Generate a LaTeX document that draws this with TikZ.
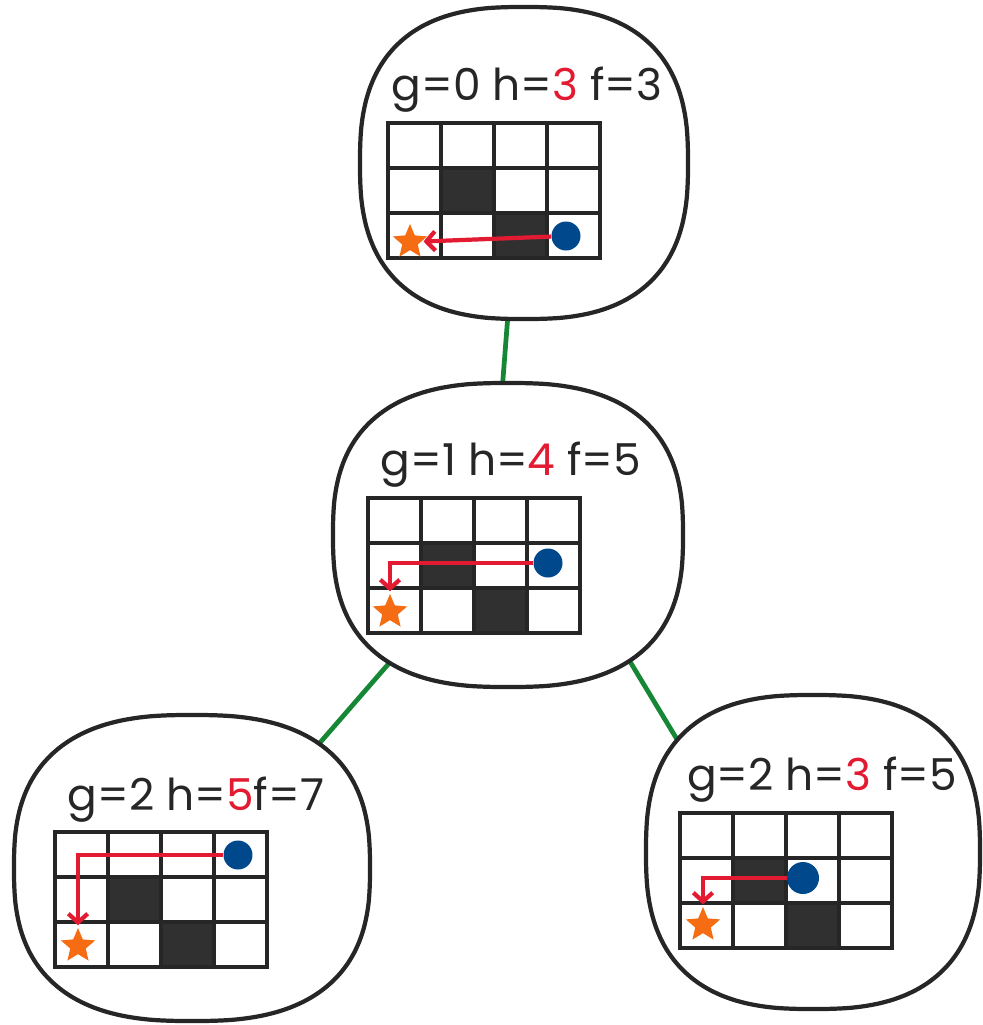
\documentclass[tikz,border=0pt]{standalone}
\usepackage{fontspec}
\setmainfont{Poppins}
\usepackage{xcolor}
\usetikzlibrary{calc,arrows.meta,shapes.geometric}

\definecolor{inkgray}{RGB}{38,38,38}
\definecolor{wallgray}{RGB}{48,48,48}
\definecolor{hred}{RGB}{226,26,50}
\definecolor{goalorange}{RGB}{245,108,18}
\definecolor{agentblue}{RGB}{0,72,140}
\definecolor{edgegreen}{RGB}{22,135,52}

\begin{document}
\begin{tikzpicture}[x=0.02cm, y=-0.02cm,
  declare function={sq(\a)=(\a<0 ? -1 : 1)*abs(\a)^0.77;},
  blob/.style={ellipse, inner sep=0pt},
  blobline/.style={draw=inkgray, line width=2.4pt, fill=white},
  edge/.style={draw=edgegreen, line width=2.7pt},
  costs/.style={font=\fontsize{25}{30}\selectfont, text=inkgray, anchor=base},
  gridline/.style={draw=inkgray, line width=2.2pt},
  wall/.style={fill=wallgray},
  goal/.style={star, star points=5, star point ratio=2.2, fill=goalorange, inner sep=0pt, minimum size=0.72cm},
  agent/.style={circle, fill=agentblue, inner sep=0pt, minimum size=0.58cm},
  route/.style={draw=hred, line width=2.4pt, -{Straight Barb[length=5pt, width=11pt]}, shorten >=1pt},
  mazegrid/.pic={
    \fill[wall] (53,45) rectangle (106,90);
    \fill[wall] (106,90) rectangle (159,135);
    \draw[gridline] (0,0) rectangle (212,135);
    \draw[gridline] (53,0) -- (53,135) (106,0) -- (106,135) (159,0) -- (159,135);
    \draw[gridline] (0,45) -- (212,45) (0,90) -- (212,90);
  }]
\useasboundingbox (0,0) rectangle (983,1025);

% search tree states
\node[blob, minimum width=6.56cm, minimum height=6.24cm] (n0) at (524,163) {};
\node[blob, minimum width=7.0cm, minimum height=6.08cm] (n1) at (508,535) {};
\node[blob, minimum width=7.12cm, minimum height=6.12cm] (n2) at (192,868) {};
\node[blob, minimum width=6.68cm, minimum height=6.28cm] (n3) at (813,852) {};

\draw[edge] (n0.264) -- (n1.92);
\draw[edge] (n1.227) -- (n2.44);
\draw[edge] (n1.315) -- (n3.142);

\draw[blobline] plot[smooth cycle, domain=2.5:357.5, samples=72, variable=\t] ({524+164*sq(cos(\t))},{163+156*sq(sin(\t))});
\draw[blobline] plot[smooth cycle, domain=2.5:357.5, samples=72, variable=\t] ({508+175*sq(cos(\t))},{535+152*sq(sin(\t))});
\draw[blobline] plot[smooth cycle, domain=2.5:357.5, samples=72, variable=\t] ({192+178*sq(cos(\t))},{868+153*sq(sin(\t))});
\draw[blobline] plot[smooth cycle, domain=2.5:357.5, samples=72, variable=\t] ({813+167*sq(cos(\t))},{852+157*sq(sin(\t))});

% root
\node[costs] (t0) at (527,100) {g=0 h=\textcolor{hred}{3} f=3};
\pic at (388,123) {mazegrid};
\node[goal] (s0) at (410,242) {};
\node[agent] (a0) at (566,236) {};
\draw[route] (a0) -- (s0);

% after one step
\node[costs] (t1) at (511,475) {g=1 h=\textcolor{hred}{4} f=5};
\pic at (368,498) {mazegrid};
\node[goal] (s1) at (390,612) {};
\node[agent] (a1) at (548,563) {};
\draw[route] (a1) -| (s1);

% two steps, up
\node[costs] (t2) at (196,810) {g=2 h=\textcolor{hred}{5}f=7};
\pic at (55,832) {mazegrid};
\node[goal] (s2) at (78,946) {};
\node[agent] (a2) at (238,855) {};
\draw[route] (a2) -| (s2);

% two steps, left
\node[costs] (t3) at (822,790) {g=2 h=\textcolor{hred}{3} f=5};
\pic at (680,813) {mazegrid};
\node[goal] (s3) at (703,925) {};
\node[agent, minimum size=0.64cm] (a3) at (803,878) {};
\draw[route] (a3) -| (s3);
\end{tikzpicture}
\end{document}
